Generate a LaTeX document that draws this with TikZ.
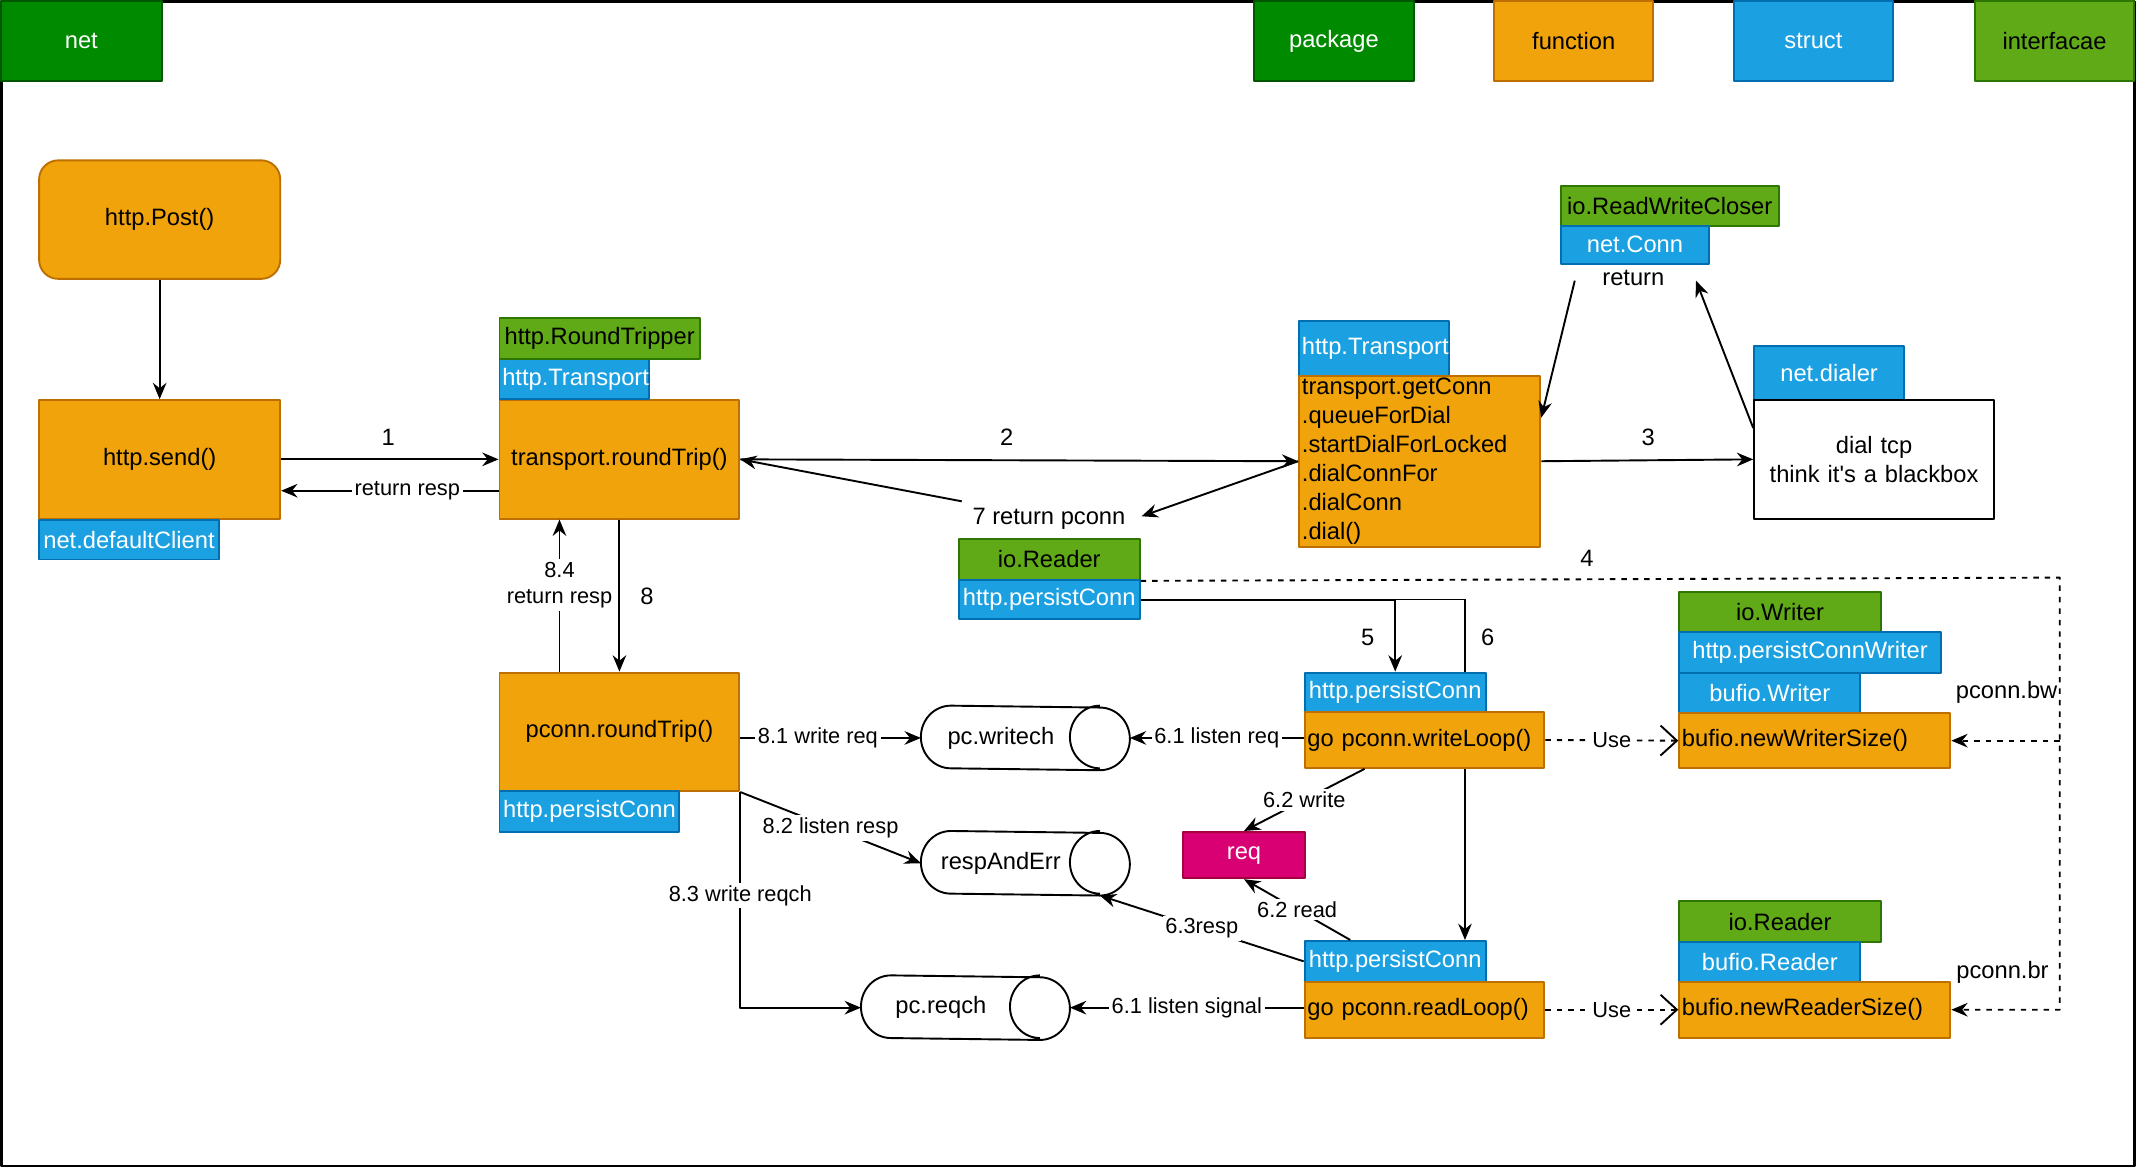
\documentclass[tikz,border=0pt]{standalone}
\usepackage{fontspec}
\setmainfont{Liberation Sans}
\usetikzlibrary{arrows.meta,backgrounds,calc}
\definecolor{fnfill}{HTML}{F0A30A}
\definecolor{fnline}{HTML}{BD7000}
\definecolor{stfill}{HTML}{1BA1E2}
\definecolor{stline}{HTML}{006EAF}
\definecolor{itfill}{HTML}{60A917}
\definecolor{itline}{HTML}{2D7600}
\definecolor{pkfill}{HTML}{008A00}
\definecolor{pkline}{HTML}{005700}
\definecolor{rqfill}{HTML}{D80073}
\definecolor{rqline}{HTML}{A50040}
\begin{document}
\begin{tikzpicture}[x=0.5pt,y=-0.5pt,line join=round,line width=0.7pt,
	font=\fontsize{8.7}{10.6}\selectfont,>={Stealth[length=6pt,width=5pt,inset=2pt]},
	box/.style={draw,rectangle,inner sep=1pt,anchor=north west,align=center},
	fn/.style={box,fill=fnfill,draw=fnline},
	fnl/.style={fn,align=left},
	fnr/.style={fn,rounded corners=7pt},
	st/.style={box,fill=stfill,draw=stline,text=white},
	itf/.style={box,fill=itfill,draw=itline},
	pkg/.style={box,fill=pkfill,draw=pkline,text=white},
	rq/.style={box,fill=rqfill,draw=rqline,text=white},
	plain/.style={box,fill=white,draw=black},
	chan/.style={rectangle,inner sep=0pt,anchor=north west,minimum width=58pt,minimum height=23pt},
	lbl/.style={fill=white,inner sep=1pt,font=\fontsize{8}{9.6}\selectfont},
	use/.style={dash pattern=on 2pt off 2.2pt,-{Straight Barb[length=6pt,width=11pt]}},
	dots/.style={dash pattern=on 2pt off 2.2pt}]
	\useasboundingbox (0,0) rectangle (1568,857);
	\draw[line width=1pt] (1,1) rectangle (1567,856);
	\foreach \s/\n/\x/\y/\w/\h/\t in {
		pkg/net/0/0/118/59/net, pkg/lpkg/920/0/117/59/package, fn/lfn/1096/0/117/59/function,
		st/lst/1272/0/117/59/struct, itf/litf/1449/0/117/59/interfacae,
		fnr/post/28/117/177/87/http.Post(), fn/send/28/293/177/87/http.send(),
		st/sendst/28/381/132/29/net.defaultClient,
		fn/rt/366/293/176/87/transport.roundTrip(), st/rtst/366/263/110/29/http.Transport,
		itf/rtitf/366/233/147/30/http.RoundTripper,
		st/trst/953/235/110/40/http.Transport,
		fnl/tr/953/275/177/124/transport.getConn\\.queueForDial\\.startDialForLocked\\.dialConnFor\\.dialConn\\.dial(),
		st/dialst/1287/253/110/40/net.dialer, plain/dial/1287/293/176/87/dial tcp\\think it\textquotesingle s a blackbox,
		itf/rwc/1145/136/160/29/io.ReadWriteCloser, st/conn/1145/165/109/28/net.Conn,
		itf/pcitf/703/395/133/30/io.Reader, st/pc/703/425/133/29/http.persistConn,
		fn/prt/366/493/176/87/pconn.roundTrip(), st/prtst/366/580/132/30/http.persistConn,
		st/wlst/957/493/133/29/http.persistConn, fnl/wl/957/522/176/41/go pconn.writeLoop(),
		st/rlst/957/690/133/30/http.persistConn, fnl/rl/957/720/176/41/go pconn.readLoop(),
		itf/bwitf/1232/434/148/29/io.Writer, st/bwpc/1232/463/192/30/http.persistConnWriter,
		st/bwst/1232/493/133/30/bufio.Writer, fnl/bw/1232/523/199/40/bufio.newWriterSize(),
		itf/britf/1232/661/148/30/io.Reader, st/brst/1232/691/133/29/bufio.Reader,
		fnl/br/1232/720/199/41/bufio.newReaderSize(),
		rq/req/868/610/89/34/req}
	{\pgfmathsetlengthmacro\tw{\w*0.5pt-2pt}\pgfmathsetlengthmacro\th{\h*0.5pt}
		\node[\s,text width=\tw,minimum height=\th] (\n) at (\x,\y) {\t};}
	\foreach \n/\x/\y/\t in {wch/676/518/pc.writech, rae/676/610/respAndErr, rq/632/716/pc.reqch}{
		\node[chan] (\n) at (\x,\y) {\t};
		\draw ([xshift=11pt]\n.north west) arc[start angle=90,end angle=270,x radius=11pt,y radius=11.5pt]
			-- ([xshift=7pt]\n.south east) arc[start angle=-90,end angle=90,x radius=11pt,y radius=11.5pt] -- cycle
			([xshift=7pt]\n.north east) arc[start angle=90,end angle=270,x radius=11pt,y radius=11.5pt];}
	\foreach \n/\x/\y/\t in {n1/285/321/1, n2/739/321/2, n3/1210/321/3, n4/1165/410/4, n5/1004/468/5,
		n6/1092/468/6, n8/475/438/8, lret/1199/204/return, lbw/1473/508/pconn.bw,
		lbr/1470/714/pconn.br, l7/770/381/7 return pconn}
	\node (\n) at (\x,\y) {\t};
	\path (838,379) coordinate (p7) (706,368) coordinate (q7)
		(1156,206) coordinate (rc1) (1245,206) coordinate (rc2) (1512,424) coordinate (d4);
	% calls
	\draw[->] (post) -- (send);
	\draw[->] (send.east) -- (rt.west);
	\draw[->] ([yshift=-11.5pt]rt.west) -- node[lbl,pos=0.42] {return resp} ([yshift=-11.5pt]send.east);
	\draw[->] (rt.east) -- (tr.west);
	\draw[->] (tr.west) -- (p7);
	\draw[->] (q7) -- (rt.east);
	\draw[->] (tr.east) -- (dial.west);
	\draw[->] (rc1) -- ([yshift=16pt]tr.east);
	\draw[->] ([yshift=11.5pt]dial.west) -- (rc2);
	\draw[dots,->] (pcitf.south east) -- (d4) |- (br.east);
	\draw[dots,->] (d4 |- bw.east) -- (bw.east);
	\begin{scope}[on background layer]
		\draw[->] (pc.east) -| ([xshift=-8pt]rlst.north east);
	\end{scope}
	\draw[->] (pc.east) -| (wlst.north);
	\draw[->] (rt.south) -- (prt.north);
	\draw[->] ([xshift=-22pt]prt.north) -- node[lbl,pos=0.57,align=center] {8.4\\return resp} ([xshift=-22pt]rt.south);
	% channels
	\draw[->] (prt.east |- wch.west) -- node[lbl,pos=0.43] {8.1 write req} (wch.west);
	\draw[->] (wch.east -| wl.west) -- node[lbl] {6.1 listen req} ([xshift=18pt]wch.east);
	\draw[->] (prt.south east) -- node[lbl] {8.2 listen resp} (rae.west);
	\draw[->] (prt.south east) |- node[lbl,pos=0.24] {8.3 write reqch} (rq.west);
	\draw[->] (rq.east -| rl.west) -- node[lbl] {6.1 listen signal} ([xshift=18pt]rq.east);
	\draw[->] (rlst.west) -- node[lbl] {6.3resp} ([xshift=7pt]rae.south east);
	\draw[->] ([xshift=-22pt]wl.south) -- node[lbl] {6.2 write} (req.north);
	\draw[->] ([xshift=-16.5pt]rlst.north) -- node[lbl] {6.2 read} (req.south);
	\draw[use] (wl.east) -- node[lbl] {Use} (bw.west);
	\draw[use] (rl.east) -- node[lbl] {Use} (br.west);
\end{tikzpicture}
\end{document}
